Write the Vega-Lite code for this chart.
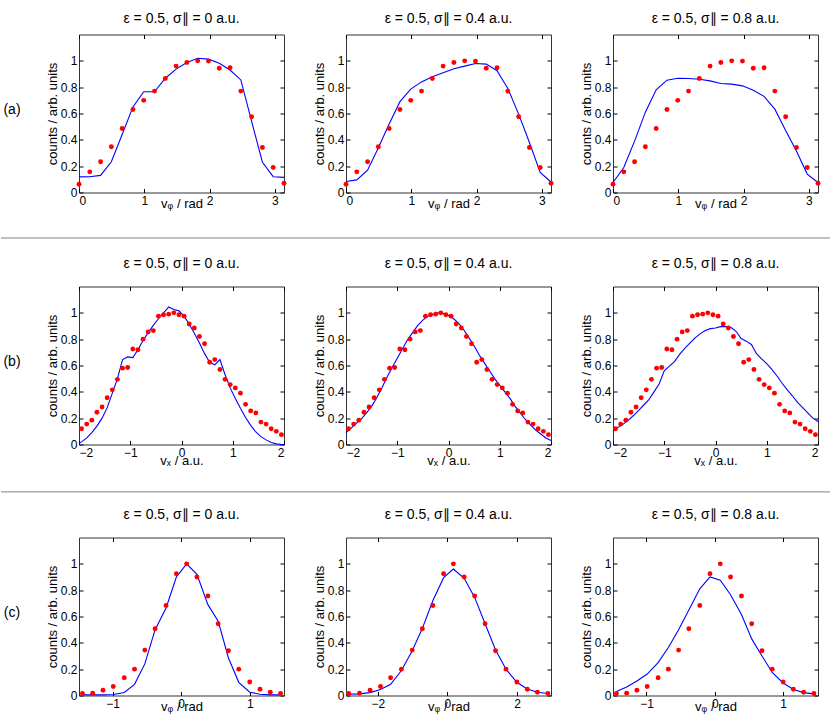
{
"$schema":"https://vega.github.io/schema/vega-lite/v6.json",
"padding":{"left":0,"top":11.5,"right":0,"bottom":0},
"spacing":0,
"datasets":{
"expA":[{"x":0,"y":0.063},{"x":0.1653,"y":0.157},{"x":0.3307,"y":0.233},{"x":0.496,"y":0.347},{"x":0.6614,"y":0.486},{"x":0.8267,"y":0.63},{"x":0.9921,"y":0.70},{"x":1.1574,"y":0.77},{"x":1.3228,"y":0.866},{"x":1.4881,"y":0.96},{"x":1.6535,"y":0.987},{"x":1.8188,"y":1.0},{"x":1.9842,"y":0.998},{"x":2.1495,"y":0.944},{"x":2.3149,"y":0.947},{"x":2.4802,"y":0.77},{"x":2.6456,"y":0.575},{"x":2.8109,"y":0.342},{"x":2.9762,"y":0.19},{"x":3.1416,"y":0.07}],
"simA1":[{"x":0,"y":0.119},{"x":0.1653,"y":0.12},{"x":0.3307,"y":0.13},{"x":0.496,"y":0.233},{"x":0.6614,"y":0.44},{"x":0.8267,"y":0.65},{"x":0.9921,"y":0.765},{"x":1.1574,"y":0.765},{"x":1.3228,"y":0.868},{"x":1.4881,"y":0.937},{"x":1.6535,"y":0.987},{"x":1.8188,"y":1.02},{"x":1.9842,"y":1.013},{"x":2.1495,"y":0.982},{"x":2.3149,"y":0.93},{"x":2.4802,"y":0.855},{"x":2.6456,"y":0.54},{"x":2.8109,"y":0.23},{"x":2.9762,"y":0.12},{"x":3.1416,"y":0.115}],
"simA2":[{"x":0,"y":0.083},{"x":0.1653,"y":0.096},{"x":0.3307,"y":0.17},{"x":0.496,"y":0.34},{"x":0.6614,"y":0.52},{"x":0.8267,"y":0.69},{"x":0.9921,"y":0.785},{"x":1.1574,"y":0.84},{"x":1.3228,"y":0.88},{"x":1.4881,"y":0.91},{"x":1.6535,"y":0.94},{"x":1.8188,"y":0.96},{"x":1.9842,"y":0.98},{"x":2.1495,"y":0.975},{"x":2.3149,"y":0.925},{"x":2.4802,"y":0.79},{"x":2.6456,"y":0.595},{"x":2.8109,"y":0.38},{"x":2.9762,"y":0.152},{"x":3.1416,"y":0.08}],
"simA3":[{"x":0,"y":0.076},{"x":0.1653,"y":0.19},{"x":0.3307,"y":0.39},{"x":0.496,"y":0.61},{"x":0.6614,"y":0.78},{"x":0.8267,"y":0.853},{"x":0.9921,"y":0.868},{"x":1.1574,"y":0.866},{"x":1.3228,"y":0.86},{"x":1.4881,"y":0.848},{"x":1.6535,"y":0.828},{"x":1.8188,"y":0.823},{"x":1.9842,"y":0.81},{"x":2.1495,"y":0.777},{"x":2.3149,"y":0.73},{"x":2.4802,"y":0.633},{"x":2.6456,"y":0.47},{"x":2.8109,"y":0.316},{"x":2.9762,"y":0.14},{"x":3.1416,"y":0.076}],
"expB":[{"x":-1.95,"y":0.12},{"x":-1.85,"y":0.155},{"x":-1.75,"y":0.185},{"x":-1.65,"y":0.245},{"x":-1.55,"y":0.285},{"x":-1.45,"y":0.355},{"x":-1.35,"y":0.415},{"x":-1.25,"y":0.495},{"x":-1.15,"y":0.58},{"x":-1.05,"y":0.585},{"x":-0.95,"y":0.725},{"x":-0.85,"y":0.72},{"x":-0.75,"y":0.8},{"x":-0.65,"y":0.855},{"x":-0.55,"y":0.865},{"x":-0.45,"y":0.975},{"x":-0.35,"y":0.985},{"x":-0.25,"y":0.99},{"x":-0.15,"y":1.0},{"x":-0.05,"y":0.985},{"x":0.05,"y":0.975},{"x":0.15,"y":0.915},{"x":0.25,"y":0.885},{"x":0.35,"y":0.82},{"x":0.45,"y":0.765},{"x":0.55,"y":0.625},{"x":0.65,"y":0.645},{"x":0.75,"y":0.57},{"x":0.85,"y":0.495},{"x":0.95,"y":0.455},{"x":1.05,"y":0.43},{"x":1.15,"y":0.39},{"x":1.25,"y":0.305},{"x":1.35,"y":0.255},{"x":1.45,"y":0.24},{"x":1.55,"y":0.17},{"x":1.65,"y":0.155},{"x":1.75,"y":0.12},{"x":1.85,"y":0.1},{"x":1.95,"y":0.075}],
"simB1":[{"x":-2,"y":0.01},{"x":-1.95,"y":0.02},{"x":-1.85,"y":0.05},{"x":-1.75,"y":0.09},{"x":-1.65,"y":0.14},{"x":-1.55,"y":0.2},{"x":-1.45,"y":0.28},{"x":-1.35,"y":0.39},{"x":-1.25,"y":0.5},{"x":-1.15,"y":0.645},{"x":-1.05,"y":0.665},{"x":-0.95,"y":0.66},{"x":-0.85,"y":0.72},{"x":-0.75,"y":0.79},{"x":-0.65,"y":0.85},{"x":-0.55,"y":0.905},{"x":-0.45,"y":0.955},{"x":-0.35,"y":1.0},{"x":-0.25,"y":1.045},{"x":-0.15,"y":1.025},{"x":-0.05,"y":1.015},{"x":0.05,"y":0.975},{"x":0.15,"y":0.915},{"x":0.25,"y":0.845},{"x":0.35,"y":0.77},{"x":0.45,"y":0.69},{"x":0.55,"y":0.625},{"x":0.65,"y":0.605},{"x":0.75,"y":0.645},{"x":0.85,"y":0.53},{"x":0.95,"y":0.43},{"x":1.05,"y":0.35},{"x":1.15,"y":0.275},{"x":1.25,"y":0.205},{"x":1.35,"y":0.145},{"x":1.45,"y":0.095},{"x":1.55,"y":0.06},{"x":1.65,"y":0.035},{"x":1.75,"y":0.015},{"x":1.85,"y":0.005},{"x":1.95,"y":0.0},{"x":2,"y":0.0}],
"simB2":[{"x":-2,"y":0.09},{"x":-1.9,"y":0.125},{"x":-1.8,"y":0.16},{"x":-1.7,"y":0.195},{"x":-1.6,"y":0.24},{"x":-1.5,"y":0.29},{"x":-1.4,"y":0.355},{"x":-1.3,"y":0.43},{"x":-1.2,"y":0.51},{"x":-1.1,"y":0.585},{"x":-1.0,"y":0.655},{"x":-0.9,"y":0.725},{"x":-0.8,"y":0.795},{"x":-0.7,"y":0.85},{"x":-0.6,"y":0.905},{"x":-0.5,"y":0.945},{"x":-0.4,"y":0.975},{"x":-0.3,"y":0.99},{"x":-0.2,"y":1.0},{"x":-0.1,"y":0.995},{"x":0,"y":0.98},{"x":0.1,"y":0.955},{"x":0.2,"y":0.92},{"x":0.3,"y":0.87},{"x":0.4,"y":0.81},{"x":0.5,"y":0.75},{"x":0.6,"y":0.68},{"x":0.7,"y":0.62},{"x":0.8,"y":0.56},{"x":0.9,"y":0.5},{"x":1.0,"y":0.45},{"x":1.1,"y":0.4},{"x":1.2,"y":0.35},{"x":1.3,"y":0.29},{"x":1.4,"y":0.24},{"x":1.5,"y":0.19},{"x":1.6,"y":0.15},{"x":1.7,"y":0.11},{"x":1.8,"y":0.08},{"x":1.9,"y":0.05},{"x":2,"y":0.03}],
"simB3":[{"x":-2,"y":0.1},{"x":-1.9,"y":0.13},{"x":-1.8,"y":0.155},{"x":-1.7,"y":0.185},{"x":-1.6,"y":0.22},{"x":-1.5,"y":0.26},{"x":-1.4,"y":0.3},{"x":-1.3,"y":0.34},{"x":-1.2,"y":0.4},{"x":-1.1,"y":0.46},{"x":-1.0,"y":0.56},{"x":-0.9,"y":0.595},{"x":-0.8,"y":0.63},{"x":-0.7,"y":0.685},{"x":-0.6,"y":0.73},{"x":-0.5,"y":0.77},{"x":-0.4,"y":0.81},{"x":-0.3,"y":0.84},{"x":-0.2,"y":0.865},{"x":-0.1,"y":0.88},{"x":0,"y":0.885},{"x":0.1,"y":0.895},{"x":0.2,"y":0.895},{"x":0.3,"y":0.89},{"x":0.4,"y":0.86},{"x":0.5,"y":0.805},{"x":0.6,"y":0.785},{"x":0.7,"y":0.76},{"x":0.8,"y":0.69},{"x":0.9,"y":0.65},{"x":1.0,"y":0.615},{"x":1.1,"y":0.57},{"x":1.2,"y":0.52},{"x":1.3,"y":0.465},{"x":1.4,"y":0.415},{"x":1.5,"y":0.37},{"x":1.6,"y":0.32},{"x":1.7,"y":0.28},{"x":1.8,"y":0.24},{"x":1.9,"y":0.2},{"x":2,"y":0.175}],
"expC13":[{"x":-1.44,"y":0.015},{"x":-1.29,"y":0.018},{"x":-1.14,"y":0.04},{"x":-0.99,"y":0.068},{"x":-0.83,"y":0.135},{"x":-0.68,"y":0.2},{"x":-0.53,"y":0.345},{"x":-0.38,"y":0.507},{"x":-0.22,"y":0.683},{"x":-0.07,"y":0.925},{"x":0.08,"y":1.0},{"x":0.23,"y":0.9},{"x":0.39,"y":0.756},{"x":0.54,"y":0.545},{"x":0.69,"y":0.34},{"x":0.84,"y":0.2},{"x":1.0,"y":0.103},{"x":1.15,"y":0.048},{"x":1.3,"y":0.025},{"x":1.45,"y":0.015}],
"expC2":[{"x":-2.83,"y":0.015},{"x":-2.52,"y":0.018},{"x":-2.22,"y":0.04},{"x":-1.92,"y":0.068},{"x":-1.63,"y":0.135},{"x":-1.32,"y":0.2},{"x":-1.01,"y":0.345},{"x":-0.72,"y":0.507},{"x":-0.42,"y":0.683},{"x":-0.11,"y":0.925},{"x":0.17,"y":1.0},{"x":0.48,"y":0.9},{"x":0.78,"y":0.756},{"x":1.08,"y":0.545},{"x":1.38,"y":0.34},{"x":1.68,"y":0.2},{"x":1.99,"y":0.103},{"x":2.29,"y":0.048},{"x":2.58,"y":0.025},{"x":2.88,"y":0.015}],
"simC1":[{"x":-1.44,"y":0.005},{"x":-1.29,"y":0.005},{"x":-1.14,"y":0.005},{"x":-0.99,"y":0.008},{"x":-0.83,"y":0.023},{"x":-0.68,"y":0.085},{"x":-0.53,"y":0.24},{"x":-0.38,"y":0.5},{"x":-0.22,"y":0.665},{"x":-0.07,"y":0.9},{"x":0.08,"y":1.0},{"x":0.23,"y":0.92},{"x":0.39,"y":0.69},{"x":0.54,"y":0.565},{"x":0.69,"y":0.285},{"x":0.84,"y":0.1},{"x":1.0,"y":0.025},{"x":1.15,"y":0.01},{"x":1.3,"y":0.005},{"x":1.45,"y":0.005}],
"simC2":[{"x":-2.83,"y":0.01},{"x":-2.52,"y":0.012},{"x":-2.22,"y":0.022},{"x":-1.92,"y":0.045},{"x":-1.63,"y":0.085},{"x":-1.32,"y":0.19},{"x":-1.01,"y":0.34},{"x":-0.72,"y":0.51},{"x":-0.42,"y":0.72},{"x":-0.11,"y":0.895},{"x":0.17,"y":0.96},{"x":0.48,"y":0.89},{"x":0.78,"y":0.745},{"x":1.08,"y":0.545},{"x":1.38,"y":0.345},{"x":1.68,"y":0.2},{"x":1.99,"y":0.1},{"x":2.29,"y":0.05},{"x":2.58,"y":0.025},{"x":2.88,"y":0.015}],
"simC3":[{"x":-1.44,"y":0.03},{"x":-1.29,"y":0.065},{"x":-1.14,"y":0.11},{"x":-0.99,"y":0.163},{"x":-0.83,"y":0.25},{"x":-0.68,"y":0.365},{"x":-0.53,"y":0.5},{"x":-0.38,"y":0.65},{"x":-0.22,"y":0.81},{"x":-0.07,"y":0.9},{"x":0.08,"y":0.875},{"x":0.23,"y":0.765},{"x":0.39,"y":0.615},{"x":0.54,"y":0.43},{"x":0.69,"y":0.3},{"x":0.84,"y":0.175},{"x":1.0,"y":0.095},{"x":1.15,"y":0.045},{"x":1.3,"y":0.022},{"x":1.45,"y":0.012}]
},
"vconcat":[
{"bounds":"flush","spacing":56,"hconcat":[
 {"width":22,"height":158,"view":{"stroke":null},"data":{"values":[{"t":"(a)"}]},"mark":{"type":"text","fontSize":14,"font":"Liberation Sans","color":"#000","dy":-4},"encoding":{"text":{"field":"t"}}},
 {"bounds":"flush","spacing":62,"hconcat":[
  {"width":205,"height":158,"title":{"text":"ε = 0.5, σ∥ = 0 a.u.","offset":8},"layer":[
   {"data":{"name":"simA1"},"mark":{"type":"line","color":"#0000ff","strokeWidth":1.1},"encoding":{"x":{"field":"x","type":"quantitative","scale":{"domain":[0,3.1416],"nice":false,"zero":false},"axis":{"values":[0,1,2,3],"title":"vᵩ / rad","titleY":15,"titleBaseline":"alphabetic"}},"y":{"field":"y","type":"quantitative","scale":{"domain":[0,1.2],"nice":false},"axis":{"values":[0,0.2,0.4,0.6,0.8,1],"title":"counts / arb. units","titleX":-23,"titleBaseline":"alphabetic"}}}},
   {"data":{"name":"expA"},"mark":{"type":"circle","color":"#ff0000","size":24,"opacity":1},"encoding":{"x":{"field":"x","type":"quantitative","scale":{"domain":[0,3.1416],"nice":false,"zero":false},"axis":{"orient":"top","values":[0,1,2,3],"labels":false,"title":null}},"y":{"field":"y","type":"quantitative","scale":{"domain":[0,1.2],"nice":false},"axis":{"orient":"right","values":[0,0.2,0.4,0.6,0.8,1],"labels":false,"title":null}}}}
  ],"resolve":{"axis":{"x":"independent","y":"independent"}}},
  {"width":205,"height":158,"title":{"text":"ε = 0.5, σ∥ = 0.4 a.u.","offset":8},"layer":[
   {"data":{"name":"simA2"},"mark":{"type":"line","color":"#0000ff","strokeWidth":1.1},"encoding":{"x":{"field":"x","type":"quantitative","scale":{"domain":[0,3.1416],"nice":false,"zero":false},"axis":{"values":[0,1,2,3],"title":"vᵩ / rad","titleY":15,"titleBaseline":"alphabetic"}},"y":{"field":"y","type":"quantitative","scale":{"domain":[0,1.2],"nice":false},"axis":{"values":[0,0.2,0.4,0.6,0.8,1],"title":"counts / arb. units","titleX":-23,"titleBaseline":"alphabetic"}}}},
   {"data":{"name":"expA"},"mark":{"type":"circle","color":"#ff0000","size":24,"opacity":1},"encoding":{"x":{"field":"x","type":"quantitative","scale":{"domain":[0,3.1416],"nice":false,"zero":false},"axis":{"orient":"top","values":[0,1,2,3],"labels":false,"title":null}},"y":{"field":"y","type":"quantitative","scale":{"domain":[0,1.2],"nice":false},"axis":{"orient":"right","values":[0,0.2,0.4,0.6,0.8,1],"labels":false,"title":null}}}}
  ],"resolve":{"axis":{"x":"independent","y":"independent"}}},
  {"width":205,"height":158,"title":{"text":"ε = 0.5, σ∥ = 0.8 a.u.","offset":8},"layer":[
   {"data":{"name":"simA3"},"mark":{"type":"line","color":"#0000ff","strokeWidth":1.1},"encoding":{"x":{"field":"x","type":"quantitative","scale":{"domain":[0,3.1416],"nice":false,"zero":false},"axis":{"values":[0,1,2,3],"title":"vᵩ / rad","titleY":15,"titleBaseline":"alphabetic"}},"y":{"field":"y","type":"quantitative","scale":{"domain":[0,1.2],"nice":false},"axis":{"values":[0,0.2,0.4,0.6,0.8,1],"title":"counts / arb. units","titleX":-23,"titleBaseline":"alphabetic"}}}},
   {"data":{"name":"expA"},"mark":{"type":"circle","color":"#ff0000","size":24,"opacity":1},"encoding":{"x":{"field":"x","type":"quantitative","scale":{"domain":[0,3.1416],"nice":false,"zero":false},"axis":{"orient":"top","values":[0,1,2,3],"labels":false,"title":null}},"y":{"field":"y","type":"quantitative","scale":{"domain":[0,1.2],"nice":false},"axis":{"orient":"right","values":[0,0.2,0.4,0.6,0.8,1],"labels":false,"title":null}}}}
  ],"resolve":{"axis":{"x":"independent","y":"independent"}}}
 ]}
]},
{"width":830,"height":43.3,"view":{"stroke":null},"data":{"values":[{"v":0.388}]},"mark":{"type":"rule","color":"#808080","strokeWidth":1},"encoding":{"y":{"field":"v","type":"quantitative","axis":null,"scale":{"domain":[0,1],"nice":false}}}},
{"bounds":"flush","spacing":56,"hconcat":[
 {"width":22,"height":158,"view":{"stroke":null},"data":{"values":[{"t":"(b)"}]},"mark":{"type":"text","fontSize":14,"font":"Liberation Sans","color":"#000","dy":-4},"encoding":{"text":{"field":"t"}}},
 {"bounds":"flush","spacing":62,"hconcat":[
  {"width":205,"height":158,"title":{"text":"ε = 0.5, σ∥ = 0 a.u.","offset":15.5},"layer":[
   {"data":{"name":"simB1"},"mark":{"type":"line","color":"#0000ff","strokeWidth":1.1},"encoding":{"x":{"field":"x","type":"quantitative","scale":{"domain":[-2,2],"nice":false,"zero":false},"axis":{"values":[-2,-1,0,1,2],"title":"vₓ / a.u.","titleY":20,"titleBaseline":"alphabetic"}},"y":{"field":"y","type":"quantitative","scale":{"domain":[0,1.2],"nice":false},"axis":{"values":[0,0.2,0.4,0.6,0.8,1],"title":"counts / arb. units","titleX":-23,"titleBaseline":"alphabetic"}}}},
   {"data":{"name":"expB"},"mark":{"type":"circle","color":"#ff0000","size":24,"opacity":1},"encoding":{"x":{"field":"x","type":"quantitative","scale":{"domain":[-2,2],"nice":false,"zero":false},"axis":{"orient":"top","values":[-2,-1,0,1,2],"labels":false,"title":null}},"y":{"field":"y","type":"quantitative","scale":{"domain":[0,1.2],"nice":false},"axis":{"orient":"right","values":[0,0.2,0.4,0.6,0.8,1],"labels":false,"title":null}}}}
  ],"resolve":{"axis":{"x":"independent","y":"independent"}}},
  {"width":205,"height":158,"title":{"text":"ε = 0.5, σ∥ = 0.4 a.u.","offset":15.5},"layer":[
   {"data":{"name":"simB2"},"mark":{"type":"line","color":"#0000ff","strokeWidth":1.1},"encoding":{"x":{"field":"x","type":"quantitative","scale":{"domain":[-2,2],"nice":false,"zero":false},"axis":{"values":[-2,-1,0,1,2],"title":"vₓ / a.u.","titleY":20,"titleBaseline":"alphabetic"}},"y":{"field":"y","type":"quantitative","scale":{"domain":[0,1.2],"nice":false},"axis":{"values":[0,0.2,0.4,0.6,0.8,1],"title":"counts / arb. units","titleX":-23,"titleBaseline":"alphabetic"}}}},
   {"data":{"name":"expB"},"mark":{"type":"circle","color":"#ff0000","size":24,"opacity":1},"encoding":{"x":{"field":"x","type":"quantitative","scale":{"domain":[-2,2],"nice":false,"zero":false},"axis":{"orient":"top","values":[-2,-1,0,1,2],"labels":false,"title":null}},"y":{"field":"y","type":"quantitative","scale":{"domain":[0,1.2],"nice":false},"axis":{"orient":"right","values":[0,0.2,0.4,0.6,0.8,1],"labels":false,"title":null}}}}
  ],"resolve":{"axis":{"x":"independent","y":"independent"}}},
  {"width":205,"height":158,"title":{"text":"ε = 0.5, σ∥ = 0.8 a.u.","offset":15.5},"layer":[
   {"data":{"name":"simB3"},"mark":{"type":"line","color":"#0000ff","strokeWidth":1.1},"encoding":{"x":{"field":"x","type":"quantitative","scale":{"domain":[-2,2],"nice":false,"zero":false},"axis":{"values":[-2,-1,0,1,2],"title":"vₓ / a.u.","titleY":20,"titleBaseline":"alphabetic"}},"y":{"field":"y","type":"quantitative","scale":{"domain":[0,1.2],"nice":false},"axis":{"values":[0,0.2,0.4,0.6,0.8,1],"title":"counts / arb. units","titleX":-23,"titleBaseline":"alphabetic"}}}},
   {"data":{"name":"expB"},"mark":{"type":"circle","color":"#ff0000","size":24,"opacity":1},"encoding":{"x":{"field":"x","type":"quantitative","scale":{"domain":[-2,2],"nice":false,"zero":false},"axis":{"orient":"top","values":[-2,-1,0,1,2],"labels":false,"title":null}},"y":{"field":"y","type":"quantitative","scale":{"domain":[0,1.2],"nice":false},"axis":{"orient":"right","values":[0,0.2,0.4,0.6,0.8,1],"labels":false,"title":null}}}}
  ],"resolve":{"axis":{"x":"independent","y":"independent"}}}
 ]}
]},
{"width":830,"height":37.5,"view":{"stroke":null},"data":{"values":[{"v":0.376}]},"mark":{"type":"rule","color":"#808080","strokeWidth":1},"encoding":{"y":{"field":"v","type":"quantitative","axis":null,"scale":{"domain":[0,1],"nice":false}}}},
{"bounds":"flush","spacing":56,"hconcat":[
 {"width":22,"height":158,"view":{"stroke":null},"data":{"values":[{"t":"(c)"}]},"mark":{"type":"text","fontSize":14,"font":"Liberation Sans","color":"#000","dy":-4},"encoding":{"text":{"field":"t"}}},
 {"bounds":"flush","spacing":62,"hconcat":[
  {"width":205,"height":158,"title":{"text":"ε = 0.5, σ∥ = 0 a.u.","offset":15.5},"layer":[
   {"data":{"name":"simC1"},"mark":{"type":"line","color":"#0000ff","strokeWidth":1.1},"encoding":{"x":{"field":"x","type":"quantitative","scale":{"domain":[-1.49,1.5],"nice":false,"zero":false},"axis":{"values":[-1,0,1],"title":"vᵩ / rad","titleY":15,"titleBaseline":"alphabetic"}},"y":{"field":"y","type":"quantitative","scale":{"domain":[0,1.2],"nice":false},"axis":{"values":[0,0.2,0.4,0.6,0.8,1],"title":"counts / arb. units","titleX":-23,"titleBaseline":"alphabetic"}}}},
   {"data":{"name":"expC13"},"mark":{"type":"circle","color":"#ff0000","size":24,"opacity":1},"encoding":{"x":{"field":"x","type":"quantitative","scale":{"domain":[-1.49,1.5],"nice":false,"zero":false},"axis":{"orient":"top","values":[-1,0,1],"labels":false,"title":null}},"y":{"field":"y","type":"quantitative","scale":{"domain":[0,1.2],"nice":false},"axis":{"orient":"right","values":[0,0.2,0.4,0.6,0.8,1],"labels":false,"title":null}}}}
  ],"resolve":{"axis":{"x":"independent","y":"independent"}}},
  {"width":205,"height":158,"title":{"text":"ε = 0.5, σ∥ = 0.4 a.u.","offset":15.5},"layer":[
   {"data":{"name":"simC2"},"mark":{"type":"line","color":"#0000ff","strokeWidth":1.1},"encoding":{"x":{"field":"x","type":"quantitative","scale":{"domain":[-2.91,2.97],"nice":false,"zero":false},"axis":{"values":[-2,0,2],"title":"vᵩ / rad","titleY":15,"titleBaseline":"alphabetic"}},"y":{"field":"y","type":"quantitative","scale":{"domain":[0,1.2],"nice":false},"axis":{"values":[0,0.2,0.4,0.6,0.8,1],"title":"counts / arb. units","titleX":-23,"titleBaseline":"alphabetic"}}}},
   {"data":{"name":"expC2"},"mark":{"type":"circle","color":"#ff0000","size":24,"opacity":1},"encoding":{"x":{"field":"x","type":"quantitative","scale":{"domain":[-2.91,2.97],"nice":false,"zero":false},"axis":{"orient":"top","values":[-2,0,2],"labels":false,"title":null}},"y":{"field":"y","type":"quantitative","scale":{"domain":[0,1.2],"nice":false},"axis":{"orient":"right","values":[0,0.2,0.4,0.6,0.8,1],"labels":false,"title":null}}}}
  ],"resolve":{"axis":{"x":"independent","y":"independent"}}},
  {"width":205,"height":158,"title":{"text":"ε = 0.5, σ∥ = 0.8 a.u.","offset":15.5},"layer":[
   {"data":{"name":"simC3"},"mark":{"type":"line","color":"#0000ff","strokeWidth":1.1},"encoding":{"x":{"field":"x","type":"quantitative","scale":{"domain":[-1.49,1.51],"nice":false,"zero":false},"axis":{"values":[-1,0,1],"title":"vᵩ / rad","titleY":15,"titleBaseline":"alphabetic"}},"y":{"field":"y","type":"quantitative","scale":{"domain":[0,1.2],"nice":false},"axis":{"values":[0,0.2,0.4,0.6,0.8,1],"title":"counts / arb. units","titleX":-23,"titleBaseline":"alphabetic"}}}},
   {"data":{"name":"expC13"},"mark":{"type":"circle","color":"#ff0000","size":24,"opacity":1},"encoding":{"x":{"field":"x","type":"quantitative","scale":{"domain":[-1.49,1.51],"nice":false,"zero":false},"axis":{"orient":"top","values":[-1,0,1],"labels":false,"title":null}},"y":{"field":"y","type":"quantitative","scale":{"domain":[0,1.2],"nice":false},"axis":{"orient":"right","values":[0,0.2,0.4,0.6,0.8,1],"labels":false,"title":null}}}}
  ],"resolve":{"axis":{"x":"independent","y":"independent"}}}
 ]}
]}
],
"config":{
 "font":"Liberation Sans",
 "numberFormat":"~g",
 "view":{"stroke":"#333","strokeWidth":1},
 "axis":{"grid":false,"domain":false,"ticks":true,"tickSize":-4,"tickColor":"#000","tickWidth":1,"labelFont":"Liberation Sans","labelFontSize":12,"labelColor":"#000","titleFont":"Liberation Sans","titleFontSize":13,"titleFontWeight":"normal","titleColor":"#000"},
 "axisX":{"labelPadding":7},
 "axisY":{"labelPadding":6},
 "title":{"font":"Liberation Sans","fontSize":14,"fontWeight":"normal","color":"#000","baseline":"alphabetic"}
}
}
